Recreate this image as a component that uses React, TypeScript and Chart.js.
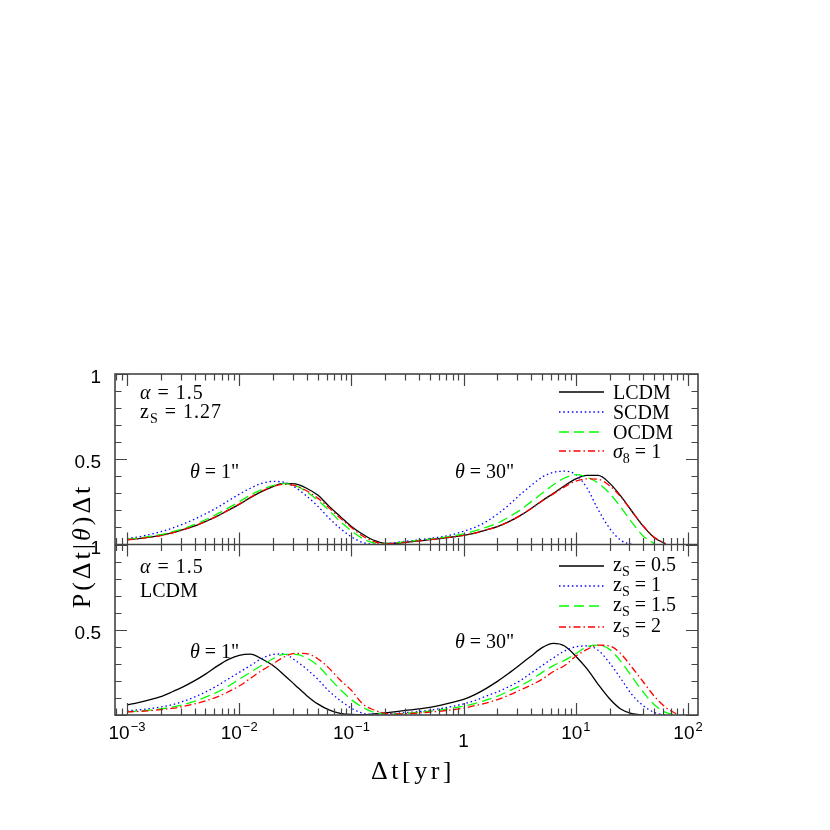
import React, { useEffect, useRef } from "react";
import { Chart, registerables } from "chart.js";
Chart.register(...registerables);

// Δt grid [yr]
const DT = [
  0.001, 0.00126, 0.00158, 0.002, 0.00251, 0.00316, 0.00398, 0.00501, 0.00631, 0.00794,
  0.01, 0.0126, 0.0158, 0.02, 0.0251, 0.0316, 0.0398, 0.0501, 0.0631, 0.0794,
  0.1, 0.126, 0.158, 0.2, 0.251, 0.316, 0.398, 0.501, 0.631, 0.794,
  1, 1.26, 1.58, 2, 2.51, 3.16, 3.98, 5.01, 6.31, 7.94,
  10, 12.6, 15.8, 20, 25.1, 31.6, 39.8, 50.1, 63.1, 79.4, 100,
];

// Upper panel: alpha=1.5, zs=1.27
const TOP_LCDM = [
  0.028, 0.035, 0.043, 0.053, 0.068, 0.087, 0.108, 0.135, 0.165, 0.2,
  0.235, 0.275, 0.31, 0.34, 0.358, 0.355, 0.33, 0.29, 0.225, 0.165,
  0.105, 0.06, 0.025, 0.006, 0.006, 0.014, 0.021, 0.028, 0.036, 0.044,
  0.053, 0.067, 0.085, 0.105, 0.133, 0.168, 0.21, 0.257, 0.3, 0.345,
  0.385, 0.405, 0.405, 0.36, 0.285, 0.195, 0.108, 0.04, 0.004,
];
const TOP_SCDM = [
  0.035, 0.045, 0.058, 0.075, 0.095, 0.12, 0.148, 0.18, 0.215, 0.255,
  0.295, 0.33, 0.358, 0.37, 0.365, 0.335, 0.285, 0.225, 0.155, 0.095,
  0.045, 0.012, 0.002, 0.003, 0.012, 0.02, 0.027, 0.036, 0.045, 0.058,
  0.078, 0.1, 0.133, 0.178, 0.23, 0.29, 0.345, 0.395, 0.423, 0.43,
  0.41, 0.33, 0.205, 0.095, 0.025, 0.0,
];
const TOP_OCDM = [
  0.03, 0.038, 0.047, 0.058, 0.074, 0.093, 0.116, 0.145, 0.178, 0.213,
  0.25, 0.29, 0.322, 0.345, 0.357, 0.345, 0.31, 0.26, 0.2, 0.135,
  0.08, 0.035, 0.01, 0.004, 0.01, 0.017, 0.024, 0.032, 0.04, 0.05,
  0.062, 0.08, 0.1, 0.125, 0.16, 0.2, 0.25, 0.3, 0.35, 0.39,
  0.41, 0.395, 0.36, 0.3, 0.22, 0.13, 0.05, 0.005,
];
const TOP_S8 = [
  0.027, 0.034, 0.042, 0.052, 0.067, 0.086, 0.108, 0.135, 0.165, 0.2,
  0.237, 0.277, 0.312, 0.34, 0.353, 0.345, 0.315, 0.272, 0.215, 0.155,
  0.1, 0.05, 0.018, 0.005, 0.007, 0.014, 0.021, 0.028, 0.036, 0.044,
  0.053, 0.067, 0.085, 0.105, 0.133, 0.168, 0.21, 0.255, 0.297, 0.338,
  0.372, 0.385, 0.382, 0.345, 0.28, 0.195, 0.11, 0.042, 0.005,
];

// Lower panel: alpha=1.5, LCDM
const BOT_Z05 = [
  0.06, 0.073, 0.088, 0.108, 0.135, 0.165, 0.2, 0.24, 0.285, 0.325,
  0.35, 0.357, 0.33, 0.29, 0.235, 0.175, 0.115, 0.065, 0.03, 0.01,
  0.003, 0.002, 0.006, 0.013, 0.02, 0.028, 0.036, 0.045, 0.058, 0.074,
  0.092, 0.12, 0.155, 0.197, 0.243, 0.293, 0.345, 0.395, 0.42, 0.405,
  0.345, 0.27, 0.18, 0.095, 0.035, 0.008, 0.0,
];
const BOT_Z1 = [
  0.025, 0.03, 0.037, 0.047, 0.06, 0.08, 0.105, 0.135, 0.17, 0.21,
  0.25, 0.29, 0.33, 0.355, 0.358, 0.32, 0.27, 0.21, 0.14, 0.085,
  0.04, 0.01, 0.003, 0.005, 0.01, 0.015, 0.02, 0.028, 0.038, 0.05,
  0.065, 0.085, 0.11, 0.135, 0.165, 0.2, 0.245, 0.29, 0.335, 0.375,
  0.4, 0.405, 0.38, 0.305, 0.215, 0.12, 0.055, 0.015, 0.0,
];
const BOT_Z15 = [
  0.019, 0.023, 0.028, 0.036, 0.046, 0.06, 0.08, 0.105, 0.133, 0.168,
  0.21, 0.25, 0.29, 0.33, 0.355, 0.356, 0.335, 0.29, 0.22, 0.15,
  0.09, 0.045, 0.016, 0.005, 0.006, 0.01, 0.015, 0.022, 0.03, 0.04,
  0.052, 0.067, 0.087, 0.11, 0.14, 0.17, 0.205, 0.25, 0.29, 0.32,
  0.36, 0.4, 0.41, 0.385, 0.315, 0.225, 0.135, 0.06, 0.015, 0.0,
];
const BOT_Z2 = [
  0.018, 0.021, 0.025, 0.031, 0.039, 0.05, 0.065, 0.083, 0.105, 0.135,
  0.17, 0.215, 0.26, 0.3, 0.34, 0.362, 0.36, 0.33, 0.275, 0.205,
  0.145, 0.065, 0.03, 0.01, 0.006, 0.008, 0.012, 0.017, 0.023, 0.031,
  0.04, 0.055, 0.07, 0.09, 0.115, 0.145, 0.175, 0.21, 0.255, 0.29,
  0.345, 0.385, 0.41, 0.405, 0.36, 0.28, 0.195, 0.11, 0.045, 0.005,
];

const TOP_NAMES = ["LCDM", "SCDM", "OCDM", "σ8=1"];
const BOT_NAMES = ["zS=0.5", "zS=1", "zS=1.5", "zS=2"];
const COLORS = ["#000000", "#0000ff", "#00ff00", "#ff0000"];
const DASHES: number[][] = [[], [1.5, 2.8], [10, 5], [7, 3, 1.5, 3]];

const X_MIN = 0.000782;
const X_MAX = 122.7;
const X_MAJOR = [0.001, 0.01, 0.1, 1, 10, 100];
const X_EXP = ["−3", "−2", "−1", "", "1", "2"];
const Y_TICK_VALUES = [1, 0.5];
const Y_TICK_TEXT = ["1", "0.5"];

const SERIF = '"Liberation Serif", "DejaVu Serif", serif';
const SANS = '"Liberation Sans", Arial, sans-serif';

type Part = [string, number, number, string?];

function partsWidth(ctx: CanvasRenderingContext2D, parts: Part[], sp: number) {
  let w = 0;
  for (const [t, size, , style] of parts) {
    ctx.font = `${style || ""} ${size}px ${SERIF}`;
    (ctx as any).letterSpacing = sp + "px";
    w += ctx.measureText(t).width;
  }
  return w;
}
function rich(ctx: CanvasRenderingContext2D, x: number, y: number, parts: Part[], sp = 0) {
  let cx = x;
  ctx.textAlign = "left";
  ctx.textBaseline = "alphabetic";
  for (const [t, size, dy, style] of parts) {
    ctx.font = `${style || ""} ${size}px ${SERIF}`;
    (ctx as any).letterSpacing = sp + "px";
    ctx.fillText(t, cx, y + dy);
    cx += ctx.measureText(t).width;
  }
  (ctx as any).letterSpacing = "0px";
}

const decor = {
  id: "decor",
  afterDraw(chart: any) {
    const { ctx, chartArea: a, scales } = chart;
    const xs = scales.x, yt = scales.yTop, yb = scales.yBot;
    const yMid = yb.getPixelForValue(1);
    ctx.save();
    ctx.strokeStyle = "#444";
    ctx.lineWidth = 1.6;
    ctx.strokeRect(a.left, a.top, a.right - a.left, a.bottom - a.top);
    ctx.beginPath();
    ctx.moveTo(a.left, yMid);
    ctx.lineTo(a.right, yMid);
    ctx.stroke();

    // x ticks
    ctx.lineWidth = 1.2;
    ctx.beginPath();
    for (let k = -4; k <= 2; k++) {
      for (let d = 1; d <= 9; d++) {
        const v = d * Math.pow(10, k);
        if (v < X_MIN || v > X_MAX) continue;
        const px = Math.round(xs.getPixelForValue(v)) + 0.5;
        const len = d === 1 ? 12 : 6.5;
        ctx.moveTo(px, a.top); ctx.lineTo(px, a.top + len);
        ctx.moveTo(px, yMid - len); ctx.lineTo(px, yMid + len);
        ctx.moveTo(px, a.bottom); ctx.lineTo(px, a.bottom - len);
      }
    }
    // y ticks
    for (const sc of [yt, yb]) {
      for (let j = 0; j <= 10; j++) {
        const py = Math.round(sc.getPixelForValue(j / 10)) + 0.5;
        const len = j % 5 === 0 ? 12 : 6.5;
        ctx.moveTo(a.left, py); ctx.lineTo(a.left + len, py);
        ctx.moveTo(a.right, py); ctx.lineTo(a.right - len, py);
      }
    }
    ctx.stroke();

    ctx.fillStyle = "#000";
    // y tick labels
    ctx.font = `19px ${SANS}`;
    ctx.textAlign = "right";
    ctx.textBaseline = "middle";
    for (const sc of [yt, yb]) {
      Y_TICK_VALUES.forEach((v, i) => {
        ctx.fillText(Y_TICK_TEXT[i], 101, sc.getPixelForValue(v) + 4);
      });
    }
    // x tick labels
    ctx.textBaseline = "alphabetic";
    X_MAJOR.forEach((v, i) => {
      const px = xs.getPixelForValue(v);
      if (X_EXP[i] === "") {
        ctx.font = `19px ${SANS}`;
        ctx.textAlign = "center";
        ctx.fillText("1", px, 747);
        return;
      }
      ctx.font = `19px ${SANS}`;
      const wb = ctx.measureText("10").width;
      ctx.font = `13px ${SANS}`;
      const we = ctx.measureText(X_EXP[i]).width;
      const x0 = px - (wb + we + 1) / 2;
      ctx.textAlign = "left";
      ctx.font = `19px ${SANS}`;
      ctx.fillText("10", x0, 739);
      ctx.font = `13px ${SANS}`;
      ctx.fillText(X_EXP[i], x0 + wb + 1, 731);
    });

    // axis titles
    const xt: Part[] = [["Δt[yr]", 26, 0]];
    const wx = partsWidth(ctx, xt, 3.5);
    rich(ctx, 413 - wx / 2, 779, xt, 3.5);

    const ytParts: Part[] = [["P(Δt|", 26, 0], ["θ", 26, 0, "italic"], [")Δt", 26, 0]];
    const wy = partsWidth(ctx, ytParts, 3);
    ctx.save();
    ctx.translate(90, 546);
    ctx.rotate(-Math.PI / 2);
    rich(ctx, -wy / 2, 0, ytParts, 3);
    ctx.restore();

    // annotations
    rich(ctx, 140, 399, [["α", 20, 0, "italic"], [" = 1.5", 20, 0]], 1);
    rich(ctx, 140, 418, [["z", 20, 0], ["S", 14, 5], [" = 1.27", 20, 0]], 1);
    rich(ctx, 140, 573, [["α", 20, 0, "italic"], [" = 1.5", 20, 0]], 1);
    rich(ctx, 140, 597, [["LCDM", 20, 0]], 0);
    rich(ctx, 190, 478, [["θ", 20, 0, "italic"], [' = 1"', 20, 0]], 0);
    rich(ctx, 455, 478, [["θ", 20, 0, "italic"], [' = 30"', 20, 0]], 0);
    rich(ctx, 190, 658, [["θ", 20, 0, "italic"], [' = 1"', 20, 0]], 0);
    rich(ctx, 455, 648, [["θ", 20, 0, "italic"], [' = 30"', 20, 0]], 0);

    // legends
    const drawSample = (i: number, y: number) => {
      ctx.save();
      ctx.strokeStyle = COLORS[i];
      ctx.lineWidth = 1.3;
      ctx.setLineDash(DASHES[i]);
      ctx.beginPath();
      ctx.moveTo(559, y);
      ctx.lineTo(604, y);
      ctx.stroke();
      ctx.restore();
    };
    const topY = [392, 412, 432, 451];
    TOP_NAMES.forEach((name, i) => {
      drawSample(i, topY[i]);
      const base = topY[i] + 7;
      if (name.startsWith("σ")) {
        rich(ctx, 613, base, [["σ", 20, 0, "italic"], ["8", 14, 5], [" = 1", 20, 0]], 0);
      } else {
        rich(ctx, 613, base, [[name, 20, 0]], 0);
      }
    });
    const botY = [566, 586, 606, 627];
    BOT_NAMES.forEach((name, i) => {
      drawSample(i, botY[i]);
      const val = name.split("=")[1];
      rich(ctx, 613, botY[i] + 5, [["z", 20, 0], ["S", 14, 5], [" = " + val, 20, 0]], 0);
    });
    ctx.restore();
  },
};

function mk(series: number[], axis: string, i: number) {
  return {
    data: series.map((y, k) => ({ x: DT[k], y })),
    yAxisID: axis,
    borderColor: COLORS[i],
    borderWidth: 1.3,
    borderDash: DASHES[i],
    pointRadius: 0,
    fill: false,
    cubicInterpolationMode: "monotone" as const,
    order: 3 - i,
  };
}

export default function App() {
  const ref = useRef<HTMLCanvasElement>(null);
  useEffect(() => {
    document.body.style.margin = "0";
    const chart = new Chart(ref.current as HTMLCanvasElement, {
      type: "line",
      data: {
        datasets: [
          mk(TOP_LCDM, "yTop", 0),
          mk(TOP_SCDM, "yTop", 1),
          mk(TOP_OCDM, "yTop", 2),
          mk(TOP_S8, "yTop", 3),
          mk(BOT_Z05, "yBot", 0),
          mk(BOT_Z1, "yBot", 1),
          mk(BOT_Z15, "yBot", 2),
          mk(BOT_Z2, "yBot", 3),
        ] as any,
      },
      options: {
        responsive: false,
        animation: false,
        layout: { padding: { left: 115, right: 132, top: 374, bottom: 115 } },
        plugins: { legend: { display: false }, tooltip: { enabled: false } },
        scales: {
          x: { type: "logarithmic", min: X_MIN, max: X_MAX, display: false },
          yTop: { type: "linear", min: -1, max: 1, display: false },
          yBot: { type: "linear", min: 0, max: 2, display: false },
        },
      },
      plugins: [decor],
    });
    return () => chart.destroy();
  }, []);
  return <canvas ref={ref} width={830} height={830} style={{ display: "block" }} />;
}
